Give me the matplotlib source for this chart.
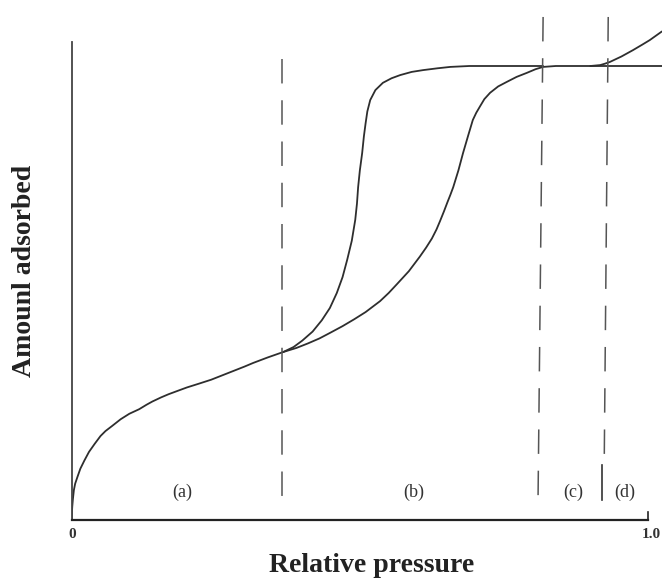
import matplotlib.pyplot as plt

# isotherm read-off, x = relative pressure, y = amount adsorbed (plateau = 1)
common_x = [0.0, 0.0005, 0.001, 0.002, 0.0038, 0.006, 0.01, 0.015, 0.022, 0.03,
            0.04, 0.05, 0.0587, 0.07, 0.085, 0.1, 0.117, 0.13, 0.14, 0.155,
            0.168, 0.185, 0.2, 0.22, 0.242, 0.26, 0.28, 0.30, 0.315, 0.34, 0.367]
common_y = [0.0, 0.02, 0.03, 0.045, 0.066, 0.08, 0.095, 0.113, 0.131, 0.15,
            0.168, 0.185, 0.196, 0.207, 0.222, 0.234, 0.244, 0.254, 0.261, 0.27,
            0.277, 0.285, 0.292, 0.30, 0.309, 0.318, 0.328, 0.338, 0.346, 0.358, 0.370]

ads_x = [0.367, 0.39, 0.41, 0.43, 0.448, 0.47, 0.49, 0.51, 0.535, 0.55,
         0.564, 0.585, 0.604, 0.615, 0.625, 0.633, 0.639, 0.646, 0.652, 0.657,
         0.662, 0.671, 0.679, 0.688, 0.696, 0.702, 0.708, 0.716, 0.726, 0.74,
         0.755, 0.772, 0.790, 0.805, 0.818, 0.84, 1.03]
ads_y = [0.370, 0.379, 0.389, 0.400, 0.412, 0.427, 0.442, 0.458, 0.482, 0.500,
         0.519, 0.548, 0.580, 0.600, 0.620, 0.640, 0.658, 0.68, 0.70, 0.716,
         0.733, 0.770, 0.808, 0.847, 0.881, 0.897, 0.910, 0.927, 0.941, 0.955,
         0.965, 0.976, 0.985, 0.993, 0.998, 1.0, 1.0]

des_x = [0.367, 0.385, 0.40, 0.418, 0.434, 0.448, 0.460, 0.470, 0.478, 0.486,
         0.492, 0.495, 0.497, 0.500, 0.504, 0.507, 0.510, 0.513, 0.518, 0.527,
         0.540, 0.555, 0.570, 0.590, 0.610, 0.635, 0.657, 0.69, 0.818]
des_y = [0.370, 0.381, 0.395, 0.415, 0.44, 0.467, 0.50, 0.535, 0.573, 0.615,
         0.661, 0.697, 0.733, 0.77, 0.808, 0.845, 0.874, 0.900, 0.925, 0.947,
         0.963, 0.973, 0.980, 0.987, 0.991, 0.995, 0.998, 1.0, 1.0]

rise_x = [0.90, 0.917, 0.925, 0.934, 0.954, 0.974, 0.99, 1.003, 1.024]
rise_y = [1.0, 1.002, 1.005, 1.009, 1.021, 1.035, 1.047, 1.057, 1.076]

# region boundaries (top x, bottom x, top y, bottom y)
bounds = [(0.365, 0.365, 1.015, 0.04),
          (0.818, 0.809, 1.108, 0.022),
          (0.931, 0.924, 1.108, 0.121)]
regions = ['(a)', '(b)', '(c)', '(d)']
region_x = [0.191, 0.593, 0.870, 0.960]

W, H = 662, 578
fig = plt.figure(figsize=(W / 100, H / 100), dpi=100)
ax = fig.add_axes([71.7 / W, 58 / H, 1 - 71.7 / W, 520 / H])
ax.set_xlim(0, (W - 71.7) / 576.3)
ax.set_ylim(0, 520 / 454)
ax.axis('off')

serif = ['Liberation Serif', 'DejaVu Serif']
curve = dict(color='#2e2e2e', lw=1.3, solid_capstyle='round',
             solid_joinstyle='round')

ax.plot(common_x, common_y, **curve)
ax.plot(ads_x, ads_y, **curve)
ax.plot(des_x, des_y, **curve)
ax.plot(rise_x, rise_y, **curve)

for x0, x1, y0, y1 in bounds:
    ax.plot([x0, x1], [y0, y1], color='#555555', lw=1.1, dashes=(16, 11))
# short solid stub under the last boundary
ax.plot([0.92, 0.92], [0.121, 0.044], color='#333333', lw=1.2)

# axes frame
ax.plot([0, 0], [0, 1.053], color='#444444', lw=1.3, clip_on=False)
ax.plot([0, 1.0], [0, 0], color='#222222', lw=1.6, clip_on=False)
ax.plot([1.0, 1.0], [0, 0.018], color='#222222', lw=1.2)

for lab, x in zip(regions, region_x):
    ax.text(x, 0.062, lab, ha='center', va='center', fontsize=13,
            family=serif, color='#333333')

ax.text(0, -0.033, '0', ha='center', va='center', fontsize=11,
        family=serif, weight='bold', color='#333333')
fig.text(661 / W, 1 - 535 / H, '1.0', ha='right', va='center', fontsize=11,
         family=serif, weight='bold', color='#333333')

fig.text(372 / W, 1 - 565 / H, 'Relative pressure', ha='center', va='center',
         fontsize=20, family=serif, weight='bold', color='#222222')
fig.text(25 / W, 1 - 271 / H, 'Amounl adsorbed', ha='center', va='center',
         rotation=90, fontsize=20, family=serif, weight='bold', color='#222222')

fig.savefig('out.png', dpi=100)
